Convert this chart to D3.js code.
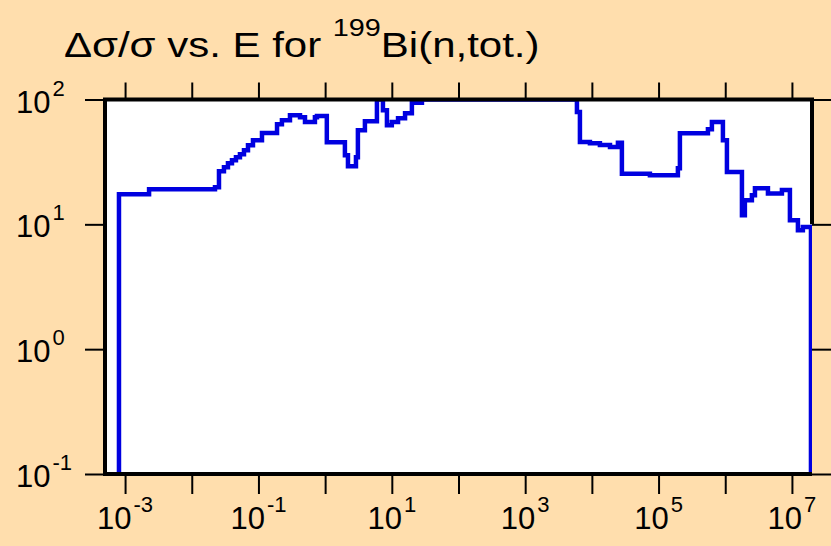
<!DOCTYPE html>
<html>
<head>
<meta charset="utf-8">
<script src="https://cdn.jsdelivr.net/npm/d3@7"></script>
<style>
  body {
    margin: 0;
    background: #ffdead;
  }
  svg text {
    font-family: "Liberation Sans", Arial, sans-serif;
    fill: #000;
  }
</style>
</head>
<body>
<div id="chart"></div>
<script>
// chart size
var width = 831;
var height = 546;
var left = 105;
var right = 812;
var top_ = 99.5;
var bottom = 474;

// data: step edges (eV) and relative uncertainty (%) between them
var energyEdges = [
  8.1e-4, 2.29e-3, 0.0223, 0.0256, 0.0304, 0.0349, 0.0401, 0.046, 0.0528,
  0.0607, 0.0697, 0.0828, 0.113, 0.19, 0.225, 0.297, 0.42, 0.499, 0.703,
  0.754, 1.06, 1.98, 2.2, 2.9, 3.1, 3.95, 5.98, 7.36, 8.45, 10.0, 12.4, 15.8,
  20.0, 28.3, 5970, 6620, 9350, 13200, 18700, 24600, 28200, 74200, 195000,
  209000, 550000, 631000, 923000, 1.06e6, 1.78e6, 1.97e6, 2.51e6, 2.79e6,
  4.37e6, 7.08e6, 9.33e6, 1.23e7, 1.46e7, 1.93e7
];
var uncertainty = [
  17.4, 19.1, 19.8, 26.6, 28.7, 30.8, 32.6, 34.5, 36.4, 39.2, 43.0, 47.2,
  54.0, 63.4, 68.3, 74.8, 72.0, 66.1, 72.0, 73.8, 45.5, 35.7, 29.2, 34.5,
  56.8, 67.0, 100, 82, 62.2, 66, 70.8, 77.6, 94, 100, 79.5, 45.7, 44.6, 43.3,
  41.7, 45, 25.4, 24.7, 28.1, 53.7, 57.8, 66.1, 47.2, 26.2, 11.8, 15.6, 17.1,
  19.5, 17.7, 18.8, 10.8, 8.95, 9.5
];
var xDomain = [5e-4, 2e7];
var yDomain = [0.1, 100];
var xTicks = [1e-3, 1e-2, 1e-1, 1, 10, 100, 1e3, 1e4, 1e5, 1e6, 1e7];
var xLabels = [-3, -1, 1, 3, 5, 7];
var yTicks = [0.1, 1, 10, 100];
var yLabels = [-1, 0, 1, 2];

var svg = d3
  .select("#chart")
  .append("svg")
  .attr("width", width)
  .attr("height", height);

var xScale = d3
  .scaleLog()
  .domain(xDomain)
  .range([left, right]);
var yScale = d3
  .scaleLog()
  .domain(yDomain)
  .range([bottom, top_]);

// plot area
svg
  .append("rect")
  .attr("x", left)
  .attr("y", top_)
  .attr("width", right - left)
  .attr("height", bottom - top_)
  .attr("fill", "#fff");

svg
  .append("clipPath")
  .attr("id", "clip")
  .append("rect")
  .attr("x", left)
  .attr("y", top_)
  .attr("width", right - left)
  .attr("height", bottom - top_);

// build step points, dropping to the bottom at both ends
var pts = [[energyEdges[0], yDomain[0]]];
for (var i = 0; i < uncertainty.length; i++) {
  pts.push([energyEdges[i], uncertainty[i]]);
}
pts.push([energyEdges[energyEdges.length - 1], uncertainty[uncertainty.length - 1]]);
pts.push([energyEdges[energyEdges.length - 1], yDomain[0]]);

var line = d3
  .line()
  .x(function(d) { return xScale(d[0]); })
  .y(function(d) { return yScale(d[1]); })
  .curve(d3.curveStepAfter);

svg
  .append("path")
  .datum(pts)
  .attr("clip-path", "url(#clip)")
  .attr("d", line)
  .attr("fill", "none")
  .attr("stroke", "#0000e0")
  .attr("stroke-width", 4.5)
  .attr("stroke-linejoin", "miter");

// ticks on all four sides
function ticks(axis) {
  return function(g) {
    g.call(axis);
    g.select(".domain").remove();
    g.selectAll(".tick line")
      .attr("stroke", "#000")
      .attr("stroke-width", 2);
    g.selectAll(".tick text").remove();
  };
}
svg
  .append("g")
  .attr("transform", "translate(0," + bottom + ")")
  .call(ticks(d3.axisBottom(xScale).tickValues(xTicks).tickSize(20)));
svg
  .append("g")
  .attr("transform", "translate(0," + top_ + ")")
  .call(ticks(d3.axisTop(xScale).tickValues(xTicks).tickSize(17)));
svg
  .append("g")
  .attr("transform", "translate(" + left + ",0)")
  .call(ticks(d3.axisLeft(yScale).tickValues(yTicks).tickSize(20)));
svg
  .append("g")
  .attr("transform", "translate(" + right + ",0)")
  .call(ticks(d3.axisRight(yScale).tickValues(yTicks).tickSize(20)));

// frame (right side hidden under the line below 10)
svg
  .append("path")
  .attr("d", "M" + right + "," + yScale(10) + "V" + top_ + "H" + left + "V" + bottom + "H" + right)
  .attr("fill", "none")
  .attr("stroke", "#000")
  .attr("stroke-width", 4);

// tick labels
var xl = svg
  .selectAll(".xlab")
  .data(xLabels)
  .enter()
  .append("text")
  .attr("class", "xlab")
  .attr("x", function(d) { return xScale(Math.pow(10, d)); })
  .attr("y", 529)
  .attr("text-anchor", "middle")
  .attr("font-size", 31);
xl.append("tspan").text("10");
xl.append("tspan")
  .attr("font-size", 22)
  .attr("dx", 2)
  .attr("dy", -17)
  .text(function(d) { return d; });

var yl = svg
  .selectAll(".ylab")
  .data(yLabels)
  .enter()
  .append("text")
  .attr("class", "ylab")
  .attr("x", 16)
  .attr("y", function(d) { return yScale(Math.pow(10, d)) + 13; })
  .attr("font-size", 31);
yl.append("tspan").text("10");
yl.append("tspan")
  .attr("font-size", 22)
  .attr("dx", 2)
  .attr("dy", -17)
  .text(function(d) { return d; });

// title, the original lettering is wide so stretch it sideways a bit
var title = svg
  .append("text")
  .attr("transform", "translate(64,57) scale(1.2,1)")
  .attr("font-size", 35);
title.append("tspan").text("\u0394\u03c3/\u03c3 vs. E for ");
title.append("tspan")
  .attr("font-size", 24)
  .attr("dy", -21)
  .text("199");
title.append("tspan")
  .attr("dy", 21)
  .text("Bi(n,tot.)");
</script>
</body>
</html>
